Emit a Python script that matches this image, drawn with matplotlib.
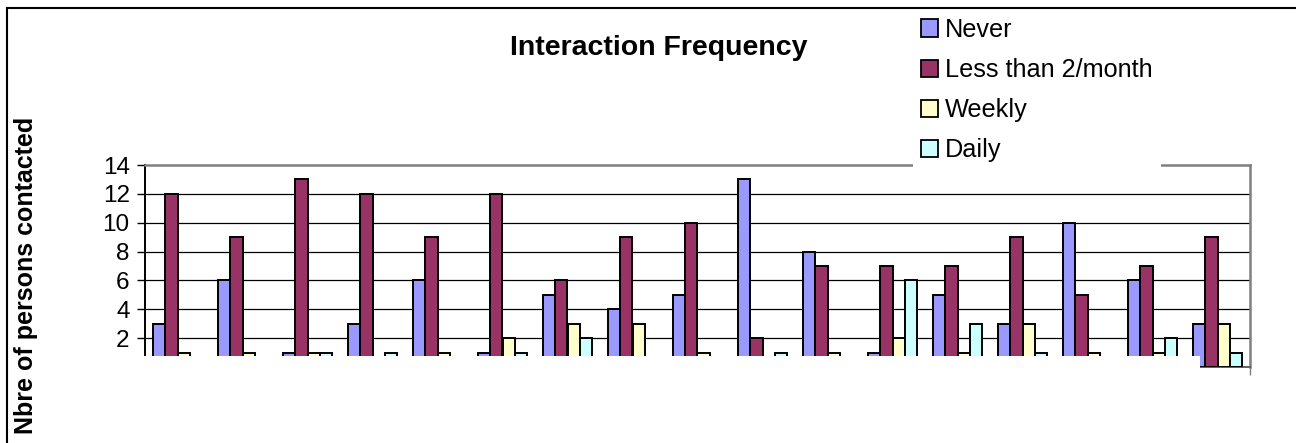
import matplotlib
matplotlib.use("Agg")
import matplotlib.pyplot as plt
import numpy as np
from matplotlib.patches import Rectangle, Patch

plt.rcParams['font.family'] = ['Liberation Sans', 'DejaVu Sans']

# ---- data ----
categories = [str(i) for i in range(1, 18)]
series_names = ["Never", "Less than 2/month", "Weekly", "Daily"]
never = [3, 6, 1, 3, 6, 1, 5, 4, 5, 13, 8, 1, 5, 3, 10, 6, 3]
less_2_month = [12, 9, 13, 12, 9, 12, 6, 9, 10, 2, 7, 7, 7, 9, 5, 7, 9]
weekly = [1, 1, 1, 0, 1, 2, 3, 3, 1, 0, 1, 2, 1, 3, 1, 1, 3]
daily = [0, 0, 1, 1, 0, 1, 2, 0, 0, 1, 0, 6, 3, 1, 0, 2, 1]
y_ticks = [2, 4, 6, 8, 10, 12, 14]
colors = ["#9999FF", "#993366", "#FFFFCC", "#CCFFFF"]

W, H, DPI = 1296, 443, 100
fig = plt.figure(figsize=(W / DPI, H / DPI), dpi=DPI)

def px(x, y):
    return x / W, 1 - y / H

# axes: left 145, right 1250, top 165 (y=14), bottom 367 (y=0)
ax = fig.add_axes([145 / W, (H - 367) / H, (1250 - 145) / W, (367 - 165) / H])

n = len(categories)
x = np.arange(n)
bw = 0.185
all_series = [never, less_2_month, weekly, daily]
for i, (vals, c, name) in enumerate(zip(all_series, colors, series_names)):
    ax.bar(x + (i - 1.5) * bw, vals, width=bw, color=c, edgecolor="black",
           linewidth=1.4, label=name, zorder=3)

ax.set_xlim(-0.5, n - 0.5)
ax.set_ylim(0, 14)
ax.set_yticks(y_ticks)
ax.set_yticklabels([str(t) for t in y_ticks], fontsize=17.5)
ax.set_xticks(np.arange(-0.5, n, 1.0))
ax.set_xticklabels([])
ax.tick_params(axis="y", direction="out", length=6, width=1, pad=5, colors="black")
ax.tick_params(axis="x", direction="out", length=6, width=1, colors="#808080")
for t in y_ticks[:-1]:
    ax.axhline(t, color="black", linewidth=0.9, zorder=1)

ax.spines["left"].set_color("black")
ax.spines["left"].set_linewidth(1.4)
ax.spines["bottom"].set_color("#606060")
ax.spines["bottom"].set_linewidth(1.4)
ax.spines["top"].set_color("#808080")
ax.spines["top"].set_linewidth(1.8)
ax.spines["right"].set_color("#808080")
ax.spines["right"].set_linewidth(1.8)

# title and y label
fig.text(*px(659, 48), "Interaction Frequency", fontsize=20.5, fontweight="bold",
         ha="center", va="center")
fig.text(*px(26, 275), "Nbre of persons contacted", fontsize=18, fontweight="bold",
         rotation=90, ha="center", va="center")

# white mask covering the lower band of the chart
mask = Rectangle(px(100, 437), 1100 / W, 81 / H, transform=fig.transFigure,
                 facecolor="white", edgecolor="none", zorder=20)
fig.patches.append(mask)

# legend
handles = [Patch(facecolor=c, edgecolor="black", linewidth=1.3) for c in colors]
leg = fig.legend(handles, series_names, loc="lower left",
                 bbox_to_anchor=px(913, 170), fontsize=18.2,
                 frameon=True, fancybox=False, borderpad=0.3,
                 handlelength=0.68, handleheight=0.68, handletextpad=0.3,
                 labelspacing=0.64, borderaxespad=0)
leg.get_frame().set_facecolor("white")
leg.get_frame().set_edgecolor("none")
leg.get_frame().set_alpha(1)
leg.set_zorder(25)

# outer border
border = Rectangle(px(7, 460), 1400 / W, 452 / H, transform=fig.transFigure,
                   facecolor="none", edgecolor="black", linewidth=1.5, zorder=30)
fig.patches.append(border)

fig.savefig("out.png", dpi=DPI)
